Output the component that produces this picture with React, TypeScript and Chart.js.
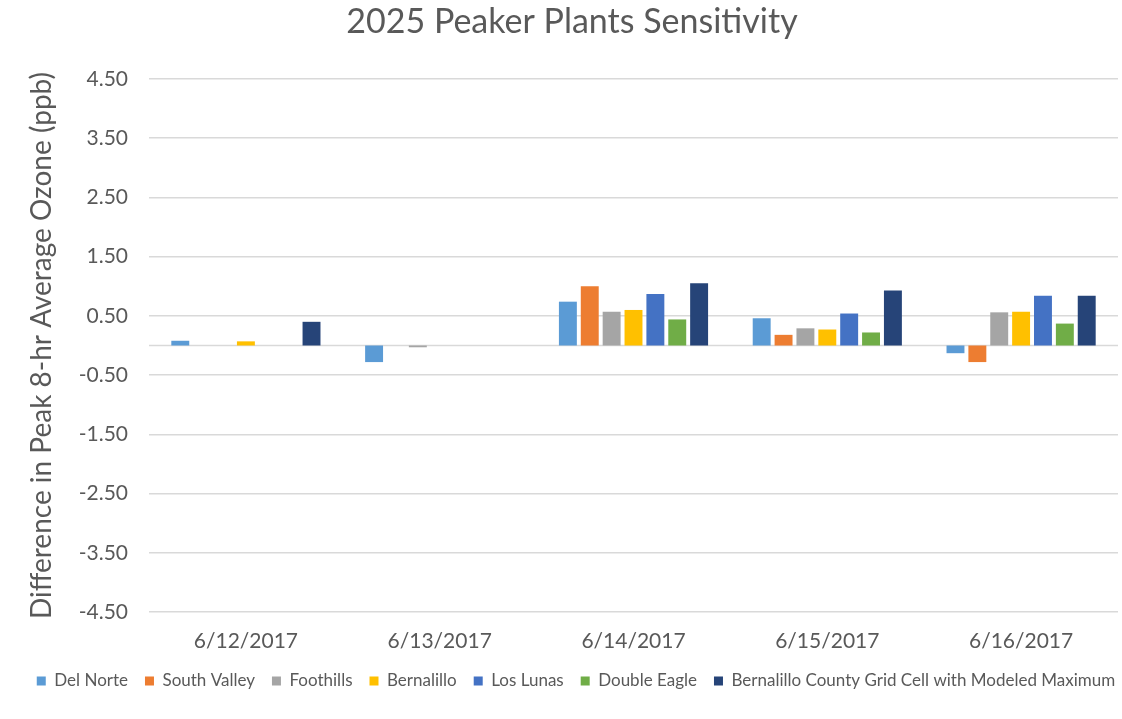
import React, { useEffect, useRef } from "react";
import { Chart, registerables } from "chart.js";

Chart.register(...registerables);

const categories = ["6/12/2017", "6/13/2017", "6/14/2017", "6/15/2017", "6/16/2017"];

const delNorte = [0.08, -0.28, 0.74, 0.46, -0.13];
const southValley = [0, 0, 1.0, 0.18, -0.28];
const foothills = [0, -0.03, 0.57, 0.29, 0.56];
const bernalillo = [0.07, 0, 0.6, 0.27, 0.57];
const losLunas = [0, 0, 0.87, 0.54, 0.84];
const doubleEagle = [0, 0, 0.44, 0.22, 0.37];
const countyMax = [0.4, 0, 1.05, 0.93, 0.84];

const seriesNames = [
  "Del Norte",
  "South Valley",
  "Foothills",
  "Bernalillo",
  "Los Lunas",
  "Double Eagle",
  "Bernalillo County Grid Cell with Modeled Maximum",
];
const seriesValues = [delNorte, southValley, foothills, bernalillo, losLunas, doubleEagle, countyMax];
const seriesColors = ["#5B9BD5", "#ED7D31", "#A5A5A5", "#FFC000", "#4472C4", "#70AD47", "#264478"];

const yTicksMin = -4.5;
const yTicksMax = 4.5;
const yStep = 1;

const FONT = "Lato, 'Open Sans', sans-serif";
const TEXT = "#595959";

const zeroLine = {
  id: "zeroLine",
  beforeDatasetsDraw(chart: any) {
    const { ctx, chartArea, scales } = chart;
    const y = scales.y.getPixelForValue(0);
    ctx.save();
    ctx.strokeStyle = "#d9d9d9";
    ctx.lineWidth = 1.5;
    ctx.beginPath();
    ctx.moveTo(chartArea.left, y);
    ctx.lineTo(chartArea.right, y);
    ctx.stroke();
    ctx.restore();
  },
};

// nudge the full-width title and legend boxes to the right, as in the reference
const shiftBoxes = {
  id: "shiftBoxes",
  afterLayout(chart: any) {
    const lg = chart.legend;
    if (lg) {
      lg.left += 17;
      lg.right += 17;
    }
    const tt = chart.titleBlock;
    if (tt) {
      tt.left += 13;
      tt.right += 13;
    }
  },
};

export default function App() {
  const ref = useRef<HTMLCanvasElement>(null);
  useEffect(() => {
    if (!ref.current) return;
    const chart = new Chart(ref.current, {
      type: "bar",
      data: {
        labels: categories,
        datasets: seriesNames.map((name, i) => ({
          label: name,
          data: seriesValues[i],
          backgroundColor: seriesColors[i],
          borderWidth: 0,
          categoryPercentage: 0.79,
          barPercentage: 0.82,
        })),
      },
      options: {
        animation: false,
        responsive: false,
        maintainAspectRatio: false,
        layout: { padding: { left: 0, right: 4, top: 0, bottom: 19.5 } },
        plugins: {
          tooltip: { enabled: false },
          title: {
            display: true,
            text: "2025 Peaker Plants Sensitivity",
            color: TEXT,
            font: { family: FONT, size: 34, weight: "normal" },
            padding: { top: 1.6, bottom: 36.6 },
          },
          legend: {
            position: "bottom",
            labels: {
              color: TEXT,
              font: { family: FONT, size: 17 },
              boxWidth: 9,
              boxHeight: 9,
              padding: 17,
            },
          },
        },
        scales: {
          x: {
            afterFit: (s: any) => {
              s.height = 43.5;
            },
            grid: { display: false, drawTicks: false },
            border: { display: false },
            ticks: {
              color: TEXT,
              font: { family: FONT, size: 21 },
              padding: 17,
              maxRotation: 0,
            },
          },
          y: {
            min: yTicksMin,
            max: yTicksMax,
            afterFit: (s: any) => {
              s.width = 149;
            },
            ticks: {
              stepSize: yStep,
              color: TEXT,
              font: { family: FONT, size: 21 },
              padding: 21,
              callback: (v: any) => Number(v).toFixed(2),
            },
            grid: { color: "#d9d9d9", lineWidth: 1.5, drawTicks: false },
            border: { display: false },
            title: {
              display: true,
              text: "Difference in Peak 8-hr Average Ozone (ppb)",
              color: TEXT,
              font: { family: FONT, size: 28, weight: "normal" },
              padding: { top: 25, bottom: 0 },
            },
          },
        },
      },
      plugins: [zeroLine, shiftBoxes],
    });
    return () => chart.destroy();
  }, []);
  return (
    <div style={{ position: "absolute", left: 0, top: 0, width: 1122, height: 719, background: "#fff" }}>
      <canvas ref={ref} width={1122} height={719} />
    </div>
  );
}
